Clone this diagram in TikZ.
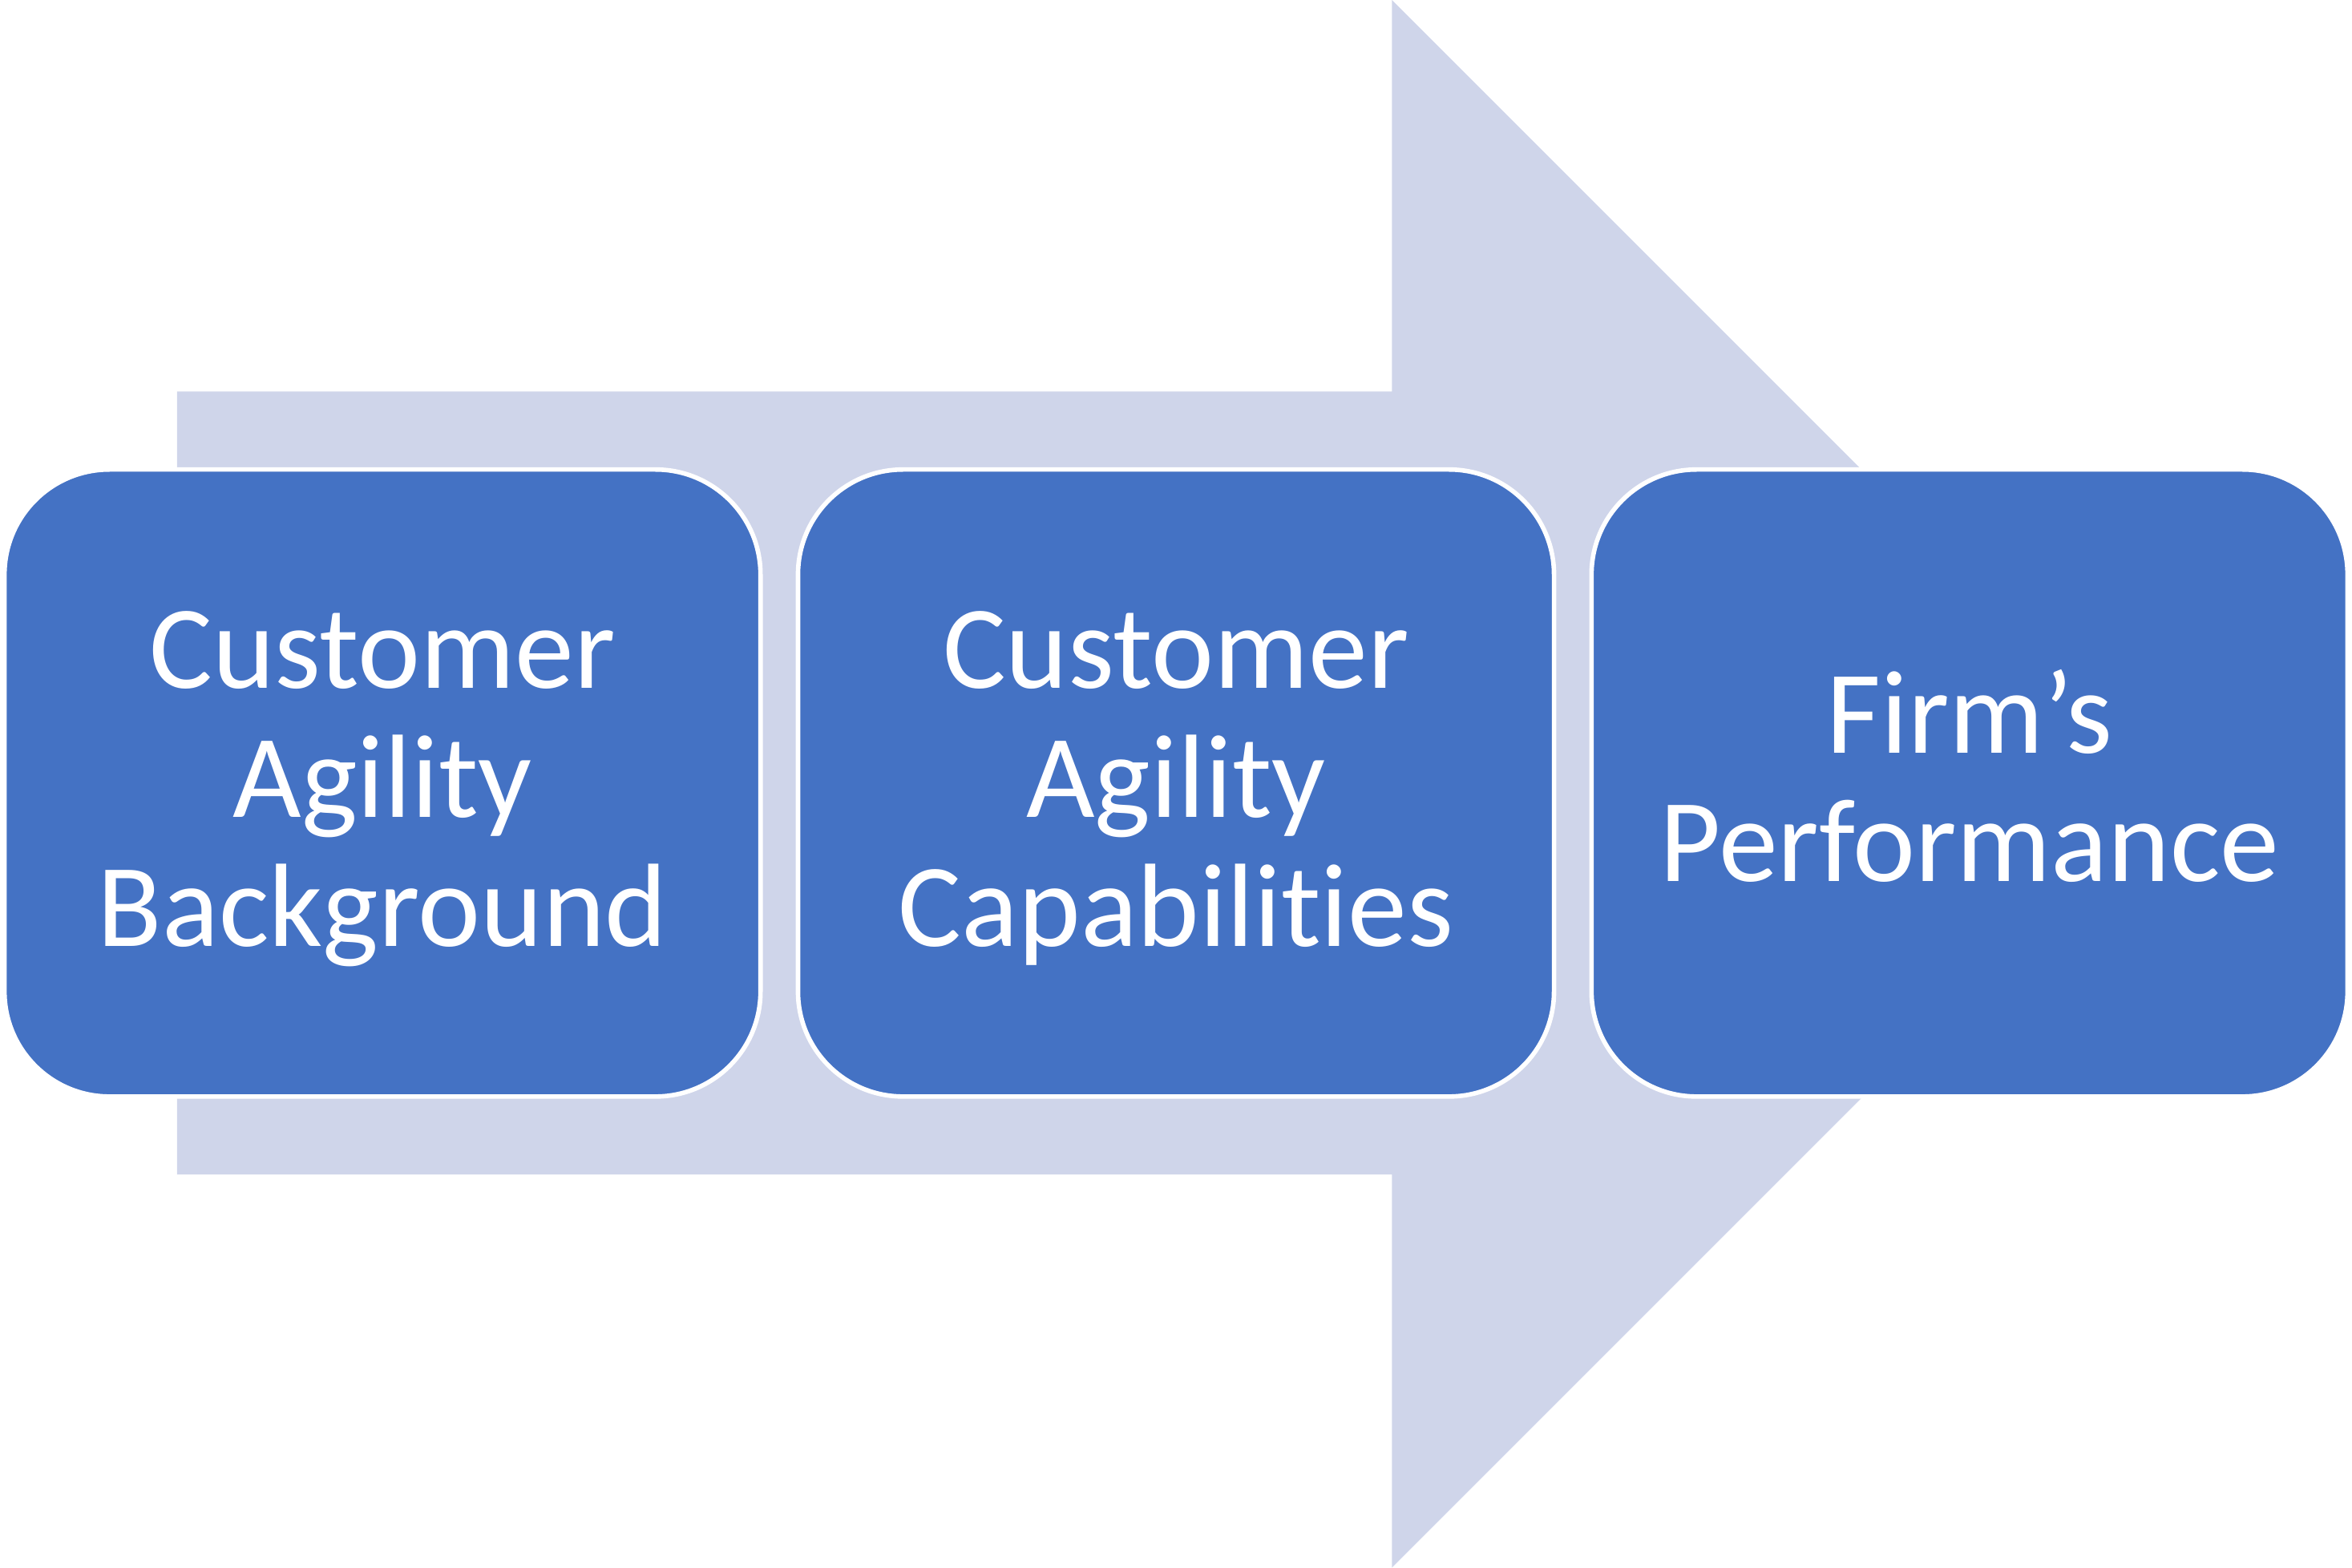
\documentclass[tikz,border=0pt]{standalone}
\usepackage{fontspec}
\setmainfont{Carlito}[Ligatures=NoCommon]
\usetikzlibrary{positioning}
\definecolor{fleche}{HTML}{CFD5EA}
\definecolor{bleu}{HTML}{4472C4}
\begin{document}
\begin{tikzpicture}[x=0.5pt,y=-0.5pt,
    bloc/.style={rectangle,rounded corners=35pt,fill=bleu,draw=white,line width=1.5pt,
        minimum width=252pt,minimum height=209pt,inner sep=0pt,align=center,
        text=white,font=\fontsize{39.5}{43}\selectfont}]
    \useasboundingbox (0,0) rectangle (1568,1045);
    \fill[fleche] (118,261) -- (928,261) -- (928,0) -- (1450.5,522.5) -- (928,1045) -- (928,783) -- (118,783) -- cycle; %Grande fleche
    \node[bloc,text depth=3pt] (fond) at (255,522) {Customer\\Agility\\Background}; %Bloc gauche
    \node[bloc,text depth=3pt,right=11pt of fond] (capa) {Customer\\Agility\\Capabilities}; %Bloc milieu
    \node[bloc,text depth=5pt,right=11pt of capa] (perf) {Firm’s\\Performance}; %Bloc droit
\end{tikzpicture}
\end{document}
